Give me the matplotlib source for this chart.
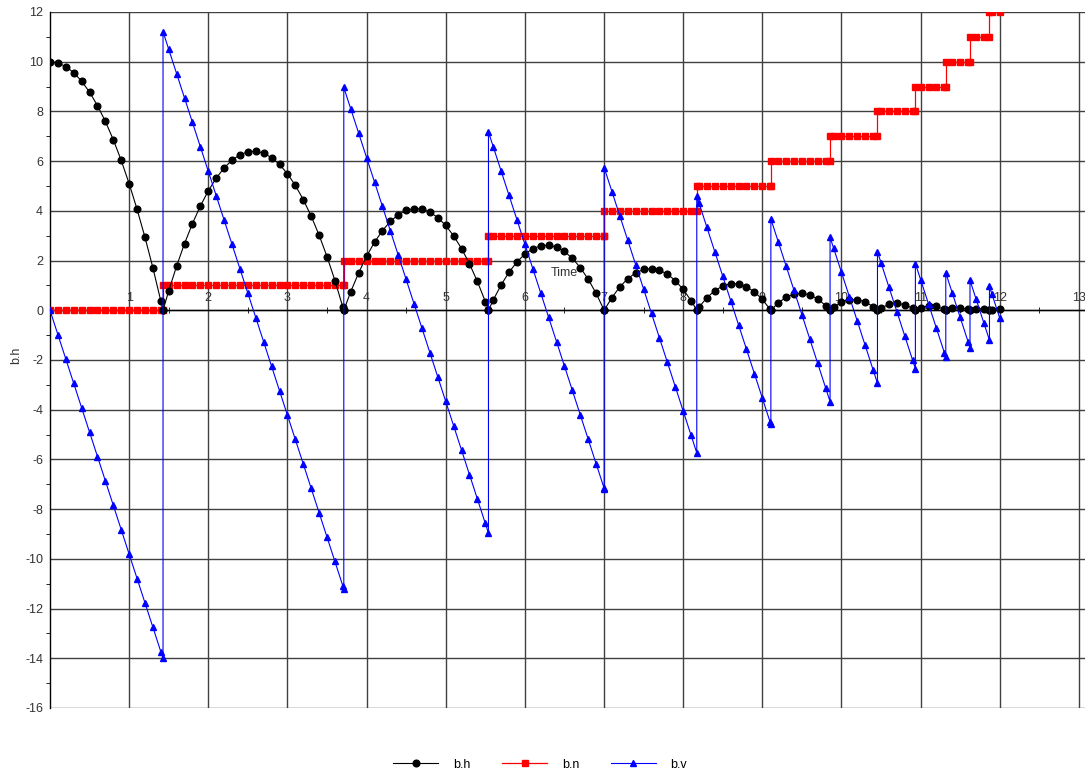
import matplotlib
matplotlib.use("Agg")
import matplotlib.pyplot as plt
from matplotlib.ticker import MultipleLocator

plt.rcParams['font.family'] = ['Liberation Sans', 'DejaVu Sans']
plt.rcParams['axes.unicode_minus'] = False

# time samples (0.1 s grid plus the double points at every bounce)
t = [0.0, 0.1, 0.2, 0.3, 0.4, 0.5, 0.6, 0.7, 0.8, 0.9, 1.0, 1.1, 1.2, 1.3, 1.4, 1.428, 1.428,
     1.5, 1.6, 1.7, 1.8, 1.9, 2.0, 2.1, 2.2, 2.3, 2.4, 2.5, 2.6, 2.7, 2.8, 2.9, 3.0, 3.1, 3.2,
     3.3, 3.4, 3.5, 3.6, 3.7, 3.712, 3.712,
     3.8, 3.9, 4.0, 4.1, 4.2, 4.3, 4.4, 4.5, 4.6, 4.7, 4.8, 4.9, 5.0, 5.1, 5.2, 5.3, 5.4, 5.5,
     5.540, 5.540,
     5.6, 5.7, 5.8, 5.9, 6.0, 6.1, 6.2, 6.3, 6.4, 6.5, 6.6, 6.7, 6.8, 6.9, 7.0, 7.002, 7.002,
     7.1, 7.2, 7.3, 7.4, 7.5, 7.6, 7.7, 7.8, 7.9, 8.0, 8.1, 8.172, 8.172,
     8.2, 8.3, 8.4, 8.5, 8.6, 8.7, 8.8, 8.9, 9.0, 9.1, 9.108, 9.108,
     9.2, 9.3, 9.4, 9.5, 9.6, 9.7, 9.8, 9.856, 9.856,
     9.9, 10.0, 10.1, 10.2, 10.3, 10.4, 10.455, 10.455,
     10.5, 10.6, 10.7, 10.8, 10.9, 10.934, 10.934,
     11.0, 11.1, 11.2, 11.3, 11.318, 11.318,
     11.4, 11.5, 11.6, 11.624, 11.624,
     11.7, 11.8, 11.870, 11.870,
     11.9, 12.0]

# b.h  height
b_h = [10.0, 9.951, 9.804, 9.559, 9.215, 8.774, 8.234, 7.597, 6.861, 6.027, 5.095, 4.065, 2.937, 1.711, 0.386, 0.0, 0.0,
       0.783, 1.784, 2.686, 3.491, 4.197, 4.806, 5.316, 5.728, 6.042, 6.258, 6.376, 6.396, 6.318, 6.141, 5.867, 5.494,
       5.023, 4.454, 3.788, 3.023, 2.159, 1.198, 0.139, 0.0, 0.0,
       0.748, 1.509, 2.173, 2.738, 3.205, 3.574, 3.845, 4.018, 4.093, 4.070, 3.948, 3.729, 3.411, 2.995, 2.482, 1.870,
       1.160, 0.352, 0.0, 0.0,
       0.412, 1.021, 1.533, 1.946, 2.261, 2.478, 2.597, 2.618, 2.540, 2.365, 2.091, 1.720, 1.250, 0.682, 0.016, 0.0, 0.0,
       0.514, 0.943, 1.273, 1.506, 1.641, 1.677, 1.615, 1.455, 1.198, 0.842, 0.388, 0.0, 0.0,
       0.125, 0.507, 0.792, 0.978, 1.066, 1.056, 0.948, 0.742, 0.438, 0.035, 0.0, 0.0,
       0.297, 0.525, 0.654, 0.686, 0.619, 0.454, 0.191, 0.0, 0.0,
       0.119, 0.321, 0.425, 0.430, 0.338, 0.147, 0.0, 0.0,
       0.095, 0.237, 0.281, 0.227, 0.075, 0.0, 0.0,
       0.102, 0.177, 0.153, 0.032, 0.0, 0.0,
       0.091, 0.111, 0.034, 0.0, 0.0,
       0.063, 0.060, 0.0, 0.0,
       0.025, 0.042]

# b.n  bounce counter
b_n = [0, 0, 0, 0, 0, 0, 0, 0, 0, 0, 0, 0, 0, 0, 0, 0, 1,
       1, 1, 1, 1, 1, 1, 1, 1, 1, 1, 1, 1, 1, 1, 1, 1, 1, 1, 1, 1, 1, 1, 1, 1, 2,
       2, 2, 2, 2, 2, 2, 2, 2, 2, 2, 2, 2, 2, 2, 2, 2, 2, 2, 2, 3,
       3, 3, 3, 3, 3, 3, 3, 3, 3, 3, 3, 3, 3, 3, 3, 3, 4,
       4, 4, 4, 4, 4, 4, 4, 4, 4, 4, 4, 4, 5,
       5, 5, 5, 5, 5, 5, 5, 5, 5, 5, 5, 6,
       6, 6, 6, 6, 6, 6, 6, 6, 7,
       7, 7, 7, 7, 7, 7, 7, 8,
       8, 8, 8, 8, 8, 8, 9,
       9, 9, 9, 9, 9, 10,
       10, 10, 10, 10, 11,
       11, 11, 11, 12,
       12, 12]

# b.v  velocity
b_v = [0.0, -0.981, -1.962, -2.943, -3.924, -4.905, -5.886, -6.867, -7.848, -8.829, -9.81, -10.791, -11.772, -12.753,
       -13.734, -14.007, 11.206,
       10.498, 9.517, 8.536, 7.555, 6.574, 5.593, 4.612, 3.631, 2.650, 1.669, 0.688, -0.293, -1.274, -2.255, -3.236,
       -4.217, -5.198, -6.179, -7.160, -8.141, -9.122, -10.103, -11.084, -11.206, 8.965,
       8.106, 7.125, 6.144, 5.163, 4.182, 3.201, 2.220, 1.239, 0.258, -0.723, -1.704, -2.685, -3.666, -4.647, -5.628,
       -6.609, -7.590, -8.571, -8.965, 7.172,
       6.584, 5.603, 4.622, 3.641, 2.660, 1.679, 0.698, -0.283, -1.264, -2.245, -3.226, -4.207, -5.188, -6.169, -7.150,
       -7.172, 5.737,
       4.778, 3.797, 2.816, 1.835, 0.854, -0.127, -1.108, -2.089, -3.070, -4.051, -5.032, -5.737, 4.590,
       4.315, 3.334, 2.353, 1.372, 0.391, -0.590, -1.571, -2.552, -3.533, -4.514, -4.590, 3.672,
       2.767, 1.786, 0.805, -0.176, -1.157, -2.138, -3.119, -3.672, 2.938,
       2.509, 1.528, 0.548, -0.434, -1.414, -2.395, -2.938, 2.350,
       1.911, 0.930, -0.051, -1.032, -2.013, -2.350, 1.880,
       1.236, 0.255, -0.726, -1.707, -1.880, 1.504,
       0.696, -0.285, -1.266, -1.504, 1.203,
       0.461, -0.520, -1.203, 0.963,
       0.664, -0.317]

x_ticks = [1, 2, 3, 4, 5, 6, 7, 8, 9, 10, 11, 12, 13]
y_ticks = [12, 10, 8, 6, 4, 2, 0, -2, -4, -6, -8, -10, -12, -14, -16]

fig = plt.figure(figsize=(10.85, 7.74), dpi=100)
ax = fig.add_axes([50 / 1085, 66 / 774, 1035 / 1085, 696 / 774])

ax.plot(t, b_n, color='#ff0000', marker='s', markersize=4.6, linewidth=0.9, label='b.n', zorder=3)
ax.plot(t, b_h, color='black', marker='o', markersize=4.8, linewidth=0.8, label='b.h', zorder=4)
ax.plot(t, b_v, color='#0000ff', marker='^', markersize=5, linewidth=0.8, label='b.v', zorder=5)

ax.set_xlim(0, 13.077)
ax.set_ylim(-16, 12)

ax.spines['top'].set_visible(False)
ax.spines['right'].set_visible(False)
ax.spines['bottom'].set_position(('data', 0))
ax.spines['left'].set_color('black')
ax.spines['bottom'].set_color('black')
ax.spines['left'].set_linewidth(1)
ax.spines['bottom'].set_linewidth(1)

ax.set_xticks(x_ticks)
ax.set_yticks(y_ticks)
ax.xaxis.set_minor_locator(MultipleLocator(0.5))
ax.yaxis.set_minor_locator(MultipleLocator(1))
ax.tick_params(axis='x', which='major', length=0, pad=-13, labelsize=9, labelcolor='#333333')
ax.tick_params(axis='x', which='minor', length=4, direction='inout', color='black')
ax.tick_params(axis='y', which='major', length=0, pad=5, labelsize=9, labelcolor='#333333')
ax.tick_params(axis='y', which='minor', length=3, direction='out', color='black')

ax.grid(True, which='major', color='#404040', linewidth=1)
ax.set_axisbelow(True)

ax.set_xlabel('Time', fontsize=9, color='#333333')
ax.xaxis.set_label_coords(6.5, 1.75, transform=ax.transData)
ax.set_ylabel('b.h', fontsize=9, color='#333333')
ax.yaxis.set_label_coords(-0.027, 0.507)

handles, labels = ax.get_legend_handles_labels()
order = [1, 0, 2]
fig.legend([handles[i] for i in order], [labels[i] for i in order], loc='center',
           bbox_to_anchor=(0.498, 0.012), ncol=3, frameon=False, fontsize=9,
           handlelength=3.6, columnspacing=2.5, handletextpad=1.2)

fig.savefig('out.png', dpi=100)
